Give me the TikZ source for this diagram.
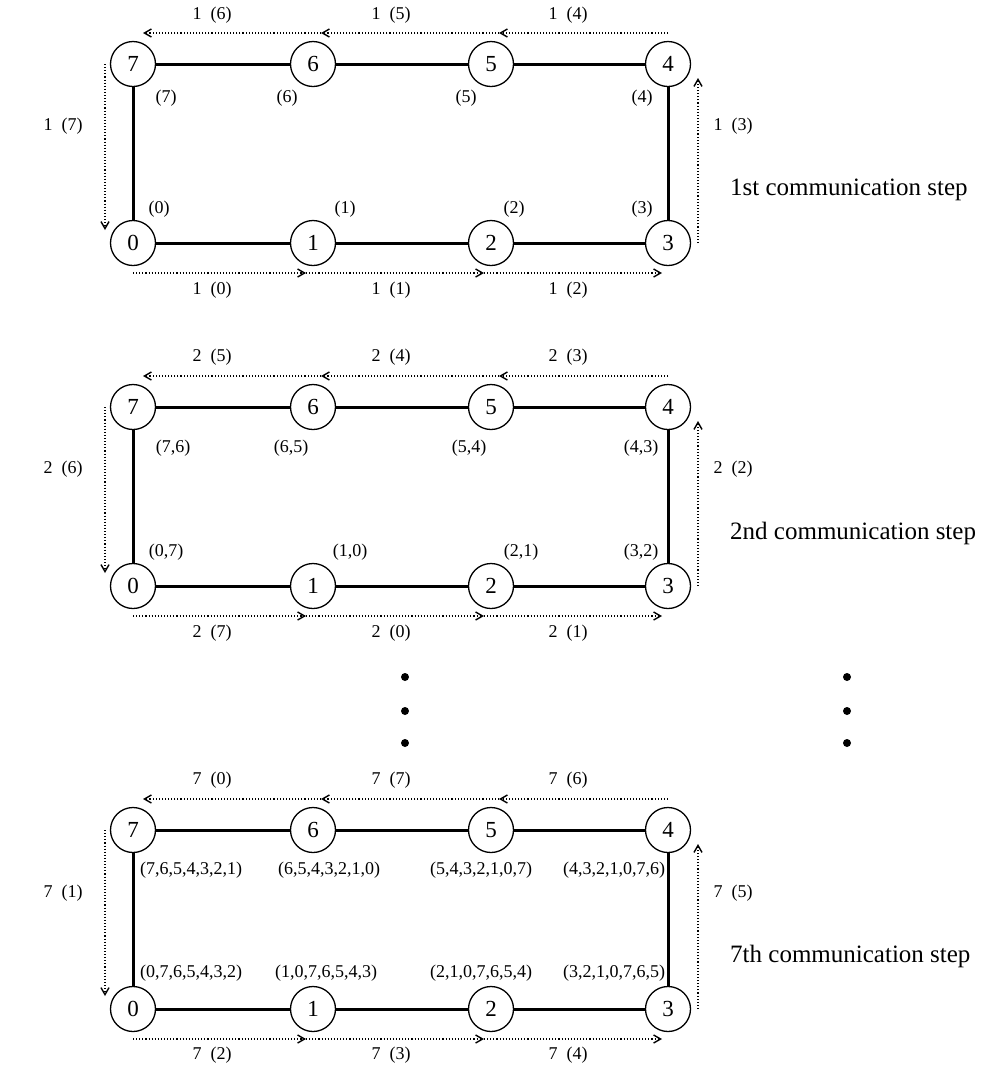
\documentclass[tikz,border=0pt]{standalone}
\usepackage{fontspec}
\setmainfont{Liberation Serif}
\usetikzlibrary{arrows.meta,calc}
\tikzset{
  ringnode/.style={circle,draw,line width=1.3pt,minimum size=45pt,inner sep=0pt,fill=white,font=\fontsize{23}{25}\selectfont},
  link/.style={line width=3pt},
  msg/.style={line width=1.1pt,dash pattern=on 1.1pt off 2pt,-{Straight Barb[length=7pt,width=8pt,line width=1.4pt]}},
  lbl/.style={font=\fontsize{18}{20}\selectfont,inner sep=0pt},
  steptitle/.style={font=\fontsize{25}{28}\selectfont,anchor=west,inner sep=0pt},
  vdot/.style={circle,fill,inner sep=0pt,minimum size=8pt},
}
\newcommand{\ringbase}[1]{%
  \node[ringnode] (#1-7) at (133,64) {7};
  \node[ringnode] (#1-6) at (313,64) {6};
  \node[ringnode] (#1-5) at (491,64) {5};
  \node[ringnode] (#1-4) at (668,64) {4};
  \node[ringnode] (#1-0) at (133,243) {0};
  \node[ringnode] (#1-1) at (313,243) {1};
  \node[ringnode] (#1-2) at (491,243) {2};
  \node[ringnode] (#1-3) at (668,243) {3};
  \draw[link] (#1-7) -- (#1-6) -- (#1-5) -- (#1-4) -- (#1-3) -- (#1-2) -- (#1-1) -- (#1-0) -- (#1-7);
  \draw[msg] ($(#1-0.center)+(0,30)$) -- ($(#1-1.center)+(-7,30)$);
  \draw[msg] ($(#1-1.center)+(-7,30)$) -- ($(#1-2.center)+(-7,30)$);
  \draw[msg] ($(#1-2.center)+(-7,30)$) -- ($(#1-3.center)+(-6,30)$);
  \draw[msg] ($(#1-3.center)+(30,0)$) -- ($(#1-4.center)+(30,14)$);
  \draw[msg] ($(#1-4.center)+(0,-31)$) -- ($(#1-5.center)+(8,-31)$);
  \draw[msg] ($(#1-5.center)+(8,-31)$) -- ($(#1-6.center)+(8,-31)$);
  \draw[msg] ($(#1-6.center)+(8,-31)$) -- ($(#1-7.center)+(10,-31)$);
  \draw[msg] ($(#1-7.center)+(-28,0)$) -- ($(#1-0.center)+(-28,-13)$);
}
\begin{document}
\begin{tikzpicture}[x=1pt,y=-1pt]
\fill[white] (0,0) rectangle (1008,1080);
\useasboundingbox (0,0) rectangle (1008,1080);

% ---- block 1
\begin{scope}
  \ringbase{a}
  \node[lbl] (a-t1) at (212,15) {1\ \ (6)};
  \node[lbl] (a-t2) at (391,15) {1\ \ (5)};
  \node[lbl] (a-t3) at (568,15) {1\ \ (4)};
  \node[lbl] (a-b1) at (212,290) {1\ \ (0)};
  \node[lbl] (a-b2) at (391,290) {1\ \ (1)};
  \node[lbl] (a-b3) at (568,290) {1\ \ (2)};
  \node[lbl] (a-l) at (63,126) {1\ \ (7)};
  \node[lbl] (a-r) at (733,126) {1\ \ (3)};
  \node[lbl] (a-u7) at (166,98) {(7)};
  \node[lbl] (a-u6) at (287,98) {(6)};
  \node[lbl] (a-u5) at (466,98) {(5)};
  \node[lbl] (a-u4) at (642,98) {(4)};
  \node[lbl] (a-d0) at (159,209) {(0)};
  \node[lbl] (a-d1) at (345,209) {(1)};
  \node[lbl] (a-d2) at (514,209) {(2)};
  \node[lbl] (a-d3) at (642,209) {(3)};
  \node[steptitle] (a-title) at (730,190) {1st communication step};
\end{scope}

% ---- block 2
\begin{scope}[shift={(0,343)}]
  \ringbase{b}
  \node[lbl] (b-t1) at (212,14) {2\ \ (5)};
  \node[lbl] (b-t2) at (391,14) {2\ \ (4)};
  \node[lbl] (b-t3) at (568,14) {2\ \ (3)};
  \node[lbl] (b-b1) at (212,290) {2\ \ (7)};
  \node[lbl] (b-b2) at (391,290) {2\ \ (0)};
  \node[lbl] (b-b3) at (568,290) {2\ \ (1)};
  \node[lbl] (b-l) at (63,126) {2\ \ (6)};
  \node[lbl] (b-r) at (733,126) {2\ \ (2)};
  \node[lbl] (b-u7) at (173,105) {(7,6)};
  \node[lbl] (b-u6) at (291,105) {(6,5)};
  \node[lbl] (b-u5) at (469,105) {(5,4)};
  \node[lbl] (b-u4) at (641,105) {(4,3)};
  \node[lbl] (b-d0) at (166,209) {(0,7)};
  \node[lbl] (b-d1) at (350,209) {(1,0)};
  \node[lbl] (b-d2) at (521,209) {(2,1)};
  \node[lbl] (b-d3) at (641,209) {(3,2)};
  \node[steptitle] (b-title) at (730,190) {2nd communication step};
\end{scope}

% ---- dots
\node[vdot] (dl1) at (405,677) {};
\node[vdot] (dl2) at (405,711) {};
\node[vdot] (dl3) at (405,743) {};
\node[vdot] (dr1) at (847,677) {};
\node[vdot] (dr2) at (847,711) {};
\node[vdot] (dr3) at (847,743) {};

% ---- block 3
\begin{scope}[shift={(0,766)}]
  \ringbase{c}
  \node[lbl] (c-t1) at (212,14) {7\ \ (0)};
  \node[lbl] (c-t2) at (391,14) {7\ \ (7)};
  \node[lbl] (c-t3) at (568,14) {7\ \ (6)};
  \node[lbl] (c-b1) at (212,289) {7\ \ (2)};
  \node[lbl] (c-b2) at (391,289) {7\ \ (3)};
  \node[lbl] (c-b3) at (568,289) {7\ \ (4)};
  \node[lbl] (c-l) at (63,127) {7\ \ (1)};
  \node[lbl] (c-r) at (733,127) {7\ \ (5)};
  \node[lbl] (c-u7) at (191,104) {(7,6,5,4,3,2,1)};
  \node[lbl] (c-u6) at (329,104) {(6,5,4,3,2,1,0)};
  \node[lbl] (c-u5) at (481,104) {(5,4,3,2,1,0,7)};
  \node[lbl] (c-u4) at (614,104) {(4,3,2,1,0,7,6)};
  \node[lbl] (c-d0) at (191,207) {(0,7,6,5,4,3,2)};
  \node[lbl] (c-d1) at (326,207) {(1,0,7,6,5,4,3)};
  \node[lbl] (c-d2) at (481,207) {(2,1,0,7,6,5,4)};
  \node[lbl] (c-d3) at (614,207) {(3,2,1,0,7,6,5)};
  \node[steptitle] (c-title) at (730,190) {7th communication step};
\end{scope}
\end{tikzpicture}
\end{document}
